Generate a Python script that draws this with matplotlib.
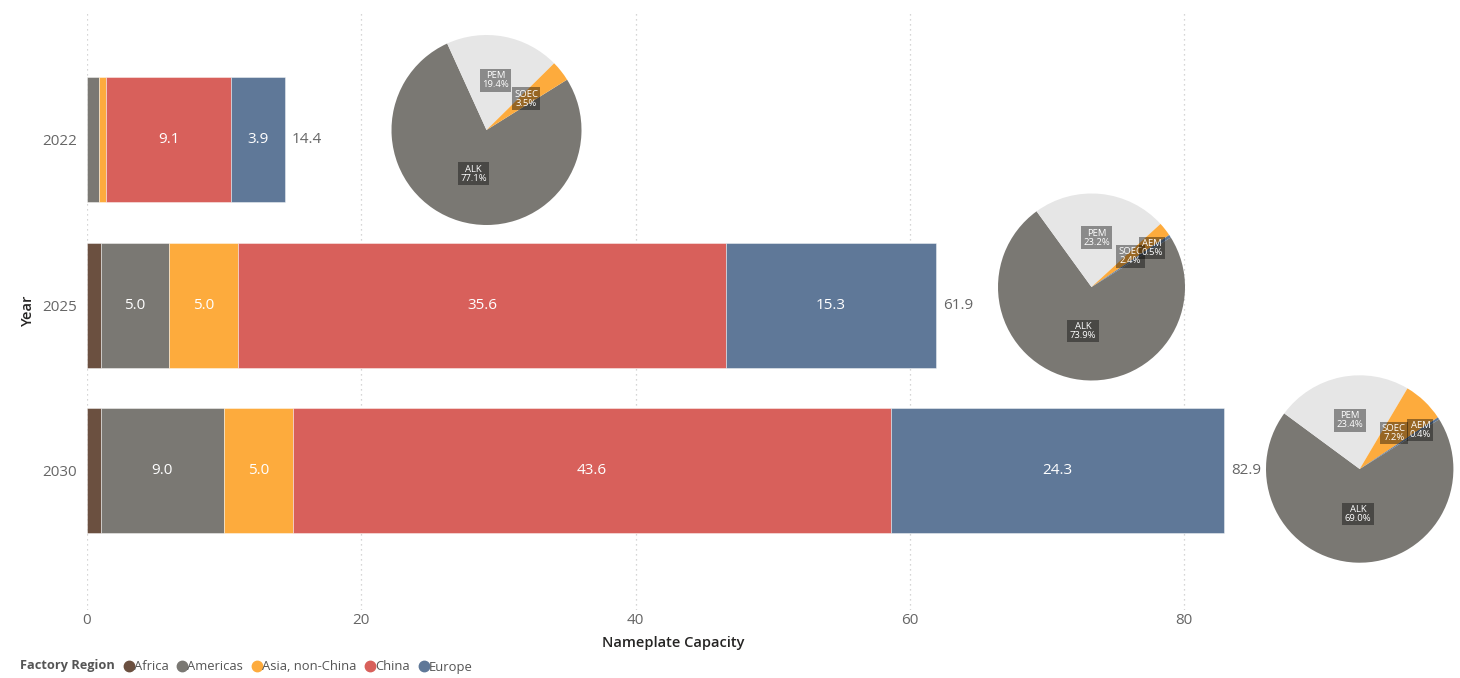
import matplotlib
matplotlib.use("Agg")
import matplotlib.pyplot as plt
from matplotlib.lines import Line2D
import numpy as np

plt.rcParams['font.family'] = ['Open Sans', 'DejaVu Sans']

years = ["2022", "2025", "2030"]
regions = ["Africa", "Americas", "Asia, non-China", "China", "Europe"]
africa = [0.0, 1.0, 1.0]
americas = [0.9, 5.0, 9.0]
asia = [0.5, 5.0, 5.0]
china = [9.1, 35.6, 43.6]
europe = [3.9, 15.3, 24.3]
totals = [14.4, 61.9, 82.9]
xticks = [0, 20, 40, 60, 80]

techs = ["ALK", "PEM", "SOEC", "AEM"]
pie_2022 = [77.1, 19.4, 3.5, 0.0]
pie_2025 = [73.9, 23.2, 2.4, 0.5]
pie_2030 = [69.0, 23.4, 7.2, 0.4]

region_colors = ["#6B5040", "#7A7873", "#FDAB3D", "#D8605B", "#5F7898"]
tech_colors = ["#7A7873", "#E6E6E6", "#FDAB3D", "#5F7898"]

W, H = 1460, 678
fig = plt.figure(figsize=(W / 100, H / 100), dpi=100)
fig.patch.set_facecolor("white")

# bar axes in pixel layout
left, right, top, bottom = 87, 1259, 10, 610
ax = fig.add_axes([left / W, 1 - bottom / H, (right - left) / W, (bottom - top) / H])
ax.set_xlim(0, 85.45)
ax.set_ylim(2.84, -0.785)

series = [africa, americas, asia, china, europe]
y = np.arange(len(years))
cum = np.zeros(len(years))
for vals, col in zip(series, region_colors):
    vals = np.array(vals)
    ax.barh(y, vals, left=cum, height=0.755, color=col, edgecolor=(1, 1, 1, 0.5), linewidth=0.6, zorder=3)
    for yi, (v, c) in enumerate(zip(vals, cum)):
        if v >= 3:
            ax.text(c + v / 2, yi, f"{v:.1f}", ha="center", va="center", color="white", fontsize=11, zorder=4)
    cum += vals
for yi, t in enumerate(totals):
    ax.text(t + 0.5, yi, f"{t:.1f}", ha="left", va="center", color="#666666", fontsize=11, clip_on=False)

ax.set_xticks(xticks)
ax.set_yticks(y)
ax.set_yticklabels(years)
ax.tick_params(axis="both", length=0, colors="#666666", labelsize=11)
ax.tick_params(axis="y", pad=7)
ax.tick_params(axis="x", pad=2)
ax.grid(axis="x", linestyle=(0, (1, 3)), color="#C8C8C8", linewidth=0.9, zorder=0)
for s in ax.spines.values():
    s.set_visible(False)
ax.set_xlabel("Nameplate Capacity", fontsize=10.5, color="#252423", labelpad=6, fontweight="semibold")
ax.set_ylabel("Year", fontsize=10.5, color="#252423", labelpad=5, fontweight="semibold")

# pies
pie_specs = [
    (pie_2022, 486.5, 130, 95),
    (pie_2025, 1091.5, 287, 93.5),
    (pie_2030, 1359.7, 469, 93.7),
]
label_r = {"ALK": 0.48, "PEM": 0.53, "SOEC": 0.53, "AEM": 0.77}
for vals, cx, cy, r in pie_specs:
    pax = fig.add_axes([(cx - r) / W, (H - cy - r) / H, 2 * r / W, 2 * r / H])
    wedges, _ = pax.pie(vals, colors=tech_colors, startangle=32, counterclock=False,
                        radius=1, wedgeprops=dict(linewidth=0))
    pax.set_xlim(-1, 1)
    pax.set_ylim(-1, 1)
    pax.set_aspect("auto")
    pax.axis("off")
    for w, name, v in zip(wedges, techs, vals):
        if v <= 0:
            continue
        mid = np.deg2rad((w.theta1 + w.theta2) / 2)
        rr = label_r[name]
        pax.text(rr * np.cos(mid), rr * np.sin(mid), f"{name}\n{v:.1f}%", ha="center", va="center",
                 fontsize=6.8, color="white", linespacing=1.0,
                 bbox=dict(boxstyle="square,pad=0.25", facecolor="black", alpha=0.4, edgecolor="none"))

# legend
fig.text(20 / W, 1 - 666 / H, "Factory Region", fontsize=9.2, fontweight="bold", color="#555555",
         ha="left", va="center")
handles = [Line2D([0], [0], marker="o", linestyle="", markersize=7.5, markerfacecolor=c, markeredgecolor=c)
           for c in region_colors]
fig.legend(handles, regions, loc="center left", bbox_to_anchor=(122 / W, 1 - 667 / H), ncol=5,
           frameon=False, fontsize=9.4, handletextpad=-0.1, columnspacing=0.55, handlelength=1.0,
           labelcolor="#555555", borderaxespad=0, borderpad=0)

fig.savefig("out.png", dpi=100)
